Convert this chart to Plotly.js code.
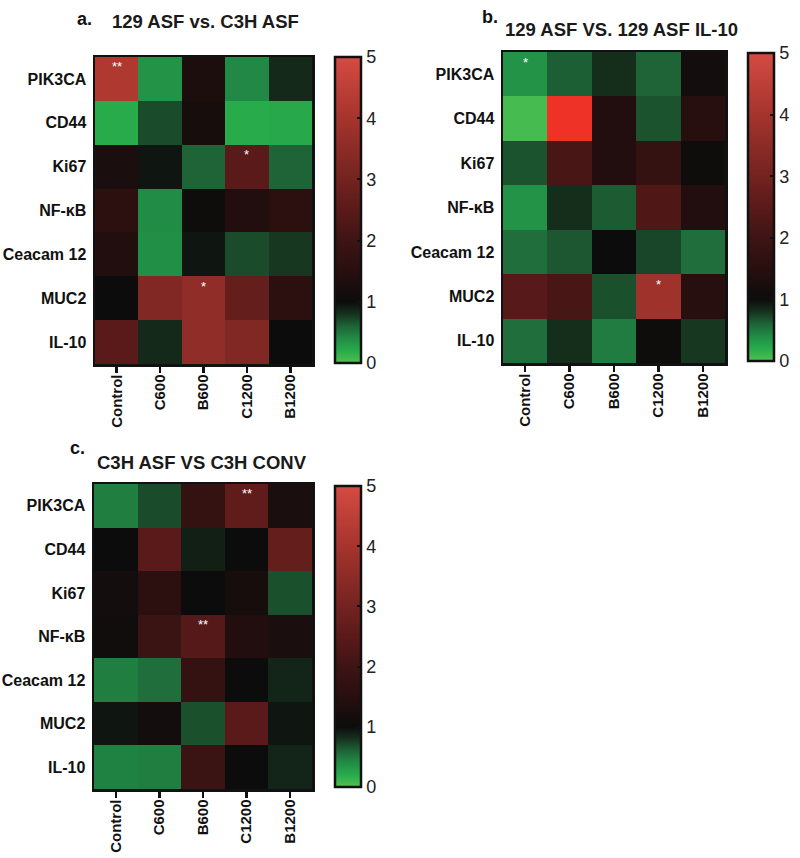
<!DOCTYPE html>
<html>
<head>
<meta charset="utf-8">
<script src="https://cdn.plot.ly/plotly-3.0.1.min.js"></script>
<style>html,body{margin:0;padding:0;background:#fff;}</style>
</head>
<body>
<div id="chart" style="width:800px;height:858px;"></div>
<script>
// ---------- data ----------
const genes = ['PIK3CA', 'CD44', 'Ki67', 'NF-κB', 'Ceacam 12', 'MUC2', 'IL-10'];
const groups = ['Control', 'C600', 'B600', 'C1200', 'B1200'];

const titleA = '129 ASF vs. C3H ASF';
const titleB = '129 ASF VS. 129 ASF IL-10';
const titleC = 'C3H ASF VS C3H CONV';

// rows = genes, columns = groups (fold change)
const valuesA = [
  [4.2, 0.35, 1.3, 0.42, 0.85],
  [0.2, 0.7, 1.2, 0.2, 0.22],
  [1.25, 0.95, 0.6, 2.5, 0.6],
  [1.6, 0.4, 1.05, 1.4, 1.6],
  [1.4, 0.38, 0.95, 0.7, 0.78],
  [1.0, 3.3, 3.6, 2.7, 1.6],
  [2.5, 0.85, 3.6, 3.3, 1.0]
];
const valuesB = [
  [0.35, 0.62, 0.82, 0.6, 1.15],
  [0.05, 5.3, 1.4, 0.67, 1.5],
  [0.67, 2.2, 1.4, 1.8, 1.05],
  [0.35, 0.82, 0.63, 2.3, 1.4],
  [0.55, 0.65, 1.0, 0.72, 0.55],
  [2.45, 2.2, 0.68, 3.9, 1.5],
  [0.55, 0.82, 0.48, 1.05, 0.78]
];
const valuesC = [
  [0.47, 0.7, 1.8, 2.6, 1.25],
  [1.0, 2.5, 0.9, 1.0, 2.7],
  [1.15, 1.6, 1.0, 1.2, 0.68],
  [1.1, 1.9, 2.4, 1.4, 1.25],
  [0.47, 0.55, 1.8, 1.0, 0.87],
  [0.95, 1.15, 0.68, 2.5, 0.95],
  [0.45, 0.47, 1.9, 1.0, 0.87]
];

// significance marks: [gene, group, mark]
const sigA = [['PIK3CA', 'Control', '**'], ['Ki67', 'C1200', '*'], ['MUC2', 'B600', '*']];
const sigB = [['PIK3CA', 'Control', '*'], ['MUC2', 'C1200', '*']];
const sigC = [['PIK3CA', 'C1200', '**'], ['NF-κB', 'B600', '**']];

const colorbarTicks = [0, 1, 2, 3, 4, 5];

// ---------- styling ----------
const FONT = 'Liberation Sans, Arial, Helvetica, sans-serif';
const INK = '#111111';
const stopV = [0, 0.2, 0.4, 0.6, 0.8, 1.0, 1.5, 2, 2.5, 3, 4, 5, 5.3];
const stopC = ['rgb(80,192,80)', 'rgb(40,172,75)', 'rgb(33,140,70)', 'rgb(30,100,55)',
  'rgb(22,50,30)', 'rgb(12,12,12)', 'rgb(40,15,15)', 'rgb(62,20,20)', 'rgb(90,26,25)',
  'rgb(115,35,32)', 'rgb(165,52,45)', 'rgb(213,75,66)', 'rgb(238,50,40)'];
function scaleFor(maxV) {
  const s = [];
  for (let i = 0; i < stopV.length; i++) {
    if (stopV[i] <= maxV + 1e-9) s.push([stopV[i] / maxV, stopC[i]]);
  }
  return s;
}
const HEAT_MAX = 5.3, BAR_MAX = 5;

const W = 800, H = 858;
const px = v => v / W;
const py = v => 1 - v / H;

// panel geometry in pixels
const panels = [
  {vals: valuesA, sig: sigA, title: titleA, label: 'a.', x0: 95, x1: 312, y0: 57, y1: 364,
   cb: {x: 335, y0: 57, y1: 363}, lab: {x: 75, y: 19}, tt: {x: 110, y: 21}},
  {vals: valuesB, sig: sigB, title: titleB, label: 'b.', x0: 503, x1: 725, y0: 52, y1: 363,
   cb: {x: 748, y0: 53, y1: 361}, lab: {x: 480, y: 17}, tt: {x: 503, y: 29}},
  {vals: valuesC, sig: sigC, title: titleC, label: 'c.', x0: 94, x1: 312, y0: 484, y1: 789,
   cb: {x: 335, y0: 486, y1: 787}, lab: {x: 68, y: 448}, tt: {x: 95, y: 462}}
];

const data = [];
const layout = {
  width: W, height: H,
  margin: {l: 0, r: 0, t: 0, b: 0},
  paper_bgcolor: '#fff', plot_bgcolor: '#fff',
  showlegend: false,
  font: {family: FONT, color: INK},
  annotations: []
};

panels.forEach((p, i) => {
  const n = i === 0 ? '' : String(i + 1);
  const xa = 'x' + n, ya = 'y' + n;
  data.push({
    type: 'heatmap', x: groups, y: genes, z: p.vals,
    xaxis: xa, yaxis: ya,
    zmin: 0, zmax: HEAT_MAX, colorscale: scaleFor(HEAT_MAX),
    showscale: false, hoverongaps: false
  });
  data.push({
    type: 'scatter', mode: 'markers', x: [groups[0]], y: [genes[0]],
    xaxis: xa, yaxis: ya, hoverinfo: 'skip',
    marker: {
      size: 1, opacity: 0, color: [0], cmin: 0, cmax: BAR_MAX,
      colorscale: scaleFor(BAR_MAX), showscale: true,
      colorbar: {
        x: px(p.cb.x), xanchor: 'left', y: py(p.cb.y0), yanchor: 'top',
        len: (p.cb.y1 - p.cb.y0) / H, lenmode: 'fraction',
        thickness: 26, thicknessmode: 'pixels', xpad: 0, ypad: 0,
        outlinewidth: 2.5, outlinecolor: '#111',
        tickvals: colorbarTicks, ticktext: colorbarTicks.map(String),
        ticks: 'inside', ticklen: 5, tickwidth: 2, tickcolor: '#111',
        ticklabelstandoff: 2,
        tickfont: {family: FONT, size: 18, color: '#222'}
      }
    }
  });
  layout['xaxis' + n] = {
    domain: [px(p.x0), px(p.x1)], anchor: ya, type: 'category',
    showline: true, mirror: true, linewidth: 2.5, linecolor: '#111',
    ticks: 'outside', ticklen: 6, tickwidth: 2.5, tickcolor: '#111',
    ticklabelstandoff: -4,
    tickangle: -90, tickfont: {family: FONT, size: 15, color: INK, weight: 'bold'},
    showgrid: false, zeroline: false, fixedrange: true
  };
  layout['yaxis' + n] = {
    domain: [py(p.y1), py(p.y0)], anchor: xa, type: 'category',
    autorange: 'reversed',
    showline: true, mirror: true, linewidth: 2.5, linecolor: '#111',
    ticks: '', ticklabelstandoff: 3,
    tickfont: {family: FONT, size: 16, color: INK, weight: 'bold'},
    showgrid: false, zeroline: false, fixedrange: true
  };
  layout.annotations.push({
    xref: 'paper', yref: 'paper', x: px(p.lab.x), y: py(p.lab.y),
    xanchor: 'left', yanchor: 'middle', showarrow: false, text: p.label,
    font: {family: FONT, size: 18, color: INK, weight: 'bold'}
  });
  layout.annotations.push({
    xref: 'paper', yref: 'paper', x: px(p.tt.x), y: py(p.tt.y),
    xanchor: 'left', yanchor: 'middle', showarrow: false, text: p.title,
    font: {family: FONT, size: 18.5, color: '#1a1a1a', weight: 'bold'}
  });
  p.sig.forEach(s => {
    layout.annotations.push({
      xref: xa, yref: ya, x: groups.indexOf(s[1]), y: genes.indexOf(s[0]),
      xanchor: 'center', yanchor: 'middle', yshift: 12, showarrow: false,
      text: s[2], font: {family: FONT, size: 13, color: '#ffffff'}
    });
  });
});

Plotly.newPlot('chart', data, layout, {staticPlot: true, displayModeBar: false});
</script>
</body>
</html>
